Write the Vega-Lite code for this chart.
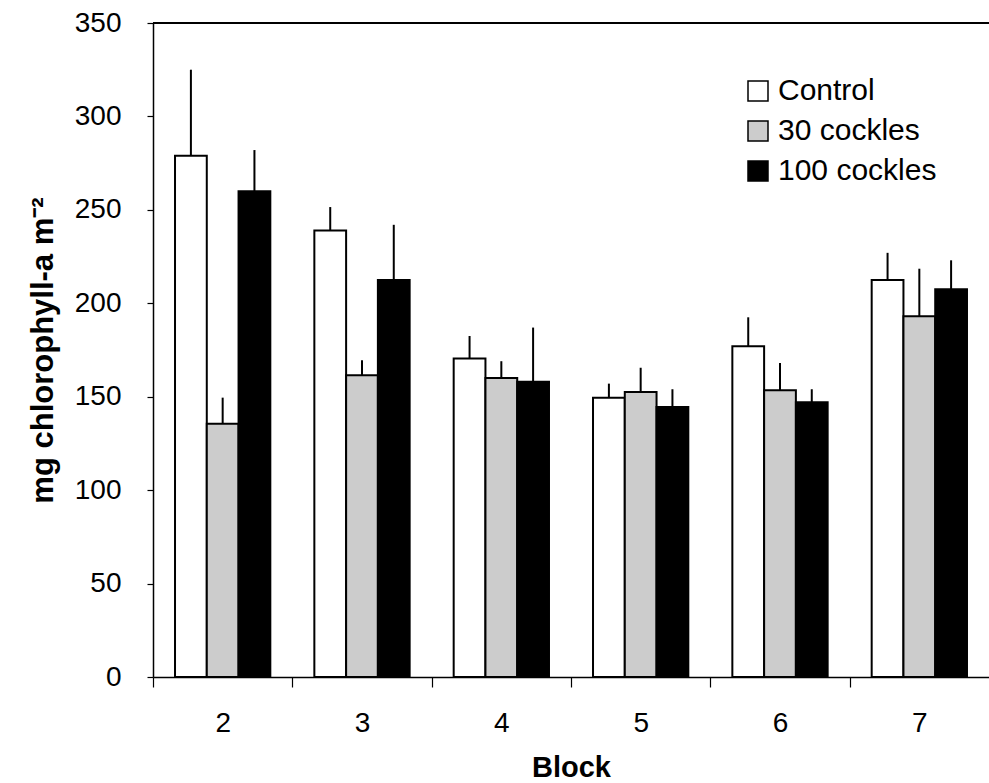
{
  "$schema": "https://vega.github.io/schema/vega-lite/v6.json",
  "width": 836,
  "height": 654,
  "autosize": {"type": "none"},
  "padding": {"left": 153, "top": 23, "right": 0, "bottom": 106},
  "background": "white",
  "config": {
    "view": {"stroke": null},
    "font": "Liberation Sans",
    "axis": {
      "grid": false,
      "domainColor": "black",
      "domainWidth": 1.5,
      "tickColor": "black",
      "tickWidth": 1.2,
      "labelColor": "black",
      "titleColor": "black",
      "labelFont": "Liberation Sans",
      "titleFont": "Liberation Sans",
      "labelFontSize": 28,
      "titleFontSize": 29,
      "titleFontWeight": "bold"
    }
  },
  "data": {
    "values": [
      {"block": "2", "group": "Control", "value": 279, "upper": 325},
      {"block": "2", "group": "30 cockles", "value": 135.5, "upper": 149.5},
      {"block": "2", "group": "100 cockles", "value": 260, "upper": 282},
      {"block": "3", "group": "Control", "value": 239, "upper": 251.5},
      {"block": "3", "group": "30 cockles", "value": 161.5, "upper": 169.5},
      {"block": "3", "group": "100 cockles", "value": 212.5, "upper": 242},
      {"block": "4", "group": "Control", "value": 170.5, "upper": 182.5},
      {"block": "4", "group": "30 cockles", "value": 160, "upper": 169},
      {"block": "4", "group": "100 cockles", "value": 158, "upper": 187},
      {"block": "5", "group": "Control", "value": 149.5, "upper": 157},
      {"block": "5", "group": "30 cockles", "value": 152.5, "upper": 165.5},
      {"block": "5", "group": "100 cockles", "value": 144.5, "upper": 154},
      {"block": "6", "group": "Control", "value": 177, "upper": 192.5},
      {"block": "6", "group": "30 cockles", "value": 153.5, "upper": 168},
      {"block": "6", "group": "100 cockles", "value": 147, "upper": 154},
      {"block": "7", "group": "Control", "value": 212.5, "upper": 227},
      {"block": "7", "group": "30 cockles", "value": 193, "upper": 218.5},
      {"block": "7", "group": "100 cockles", "value": 207.5, "upper": 223}
    ]
  },
  "encoding": {
    "x": {
      "field": "block",
      "type": "nominal",
      "sort": ["2", "3", "4", "5", "6", "7"],
      "scale": {"paddingInner": 0.316, "paddingOuter": 0.158},
      "axis": {
        "title": "Block",
        "labelAngle": 0,
        "tickSize": 10,
        "tickOffset": -69.67,
        "labelOffset": 69.67,
        "labelPadding": 22,
        "titlePadding": 16
      }
    },
    "xOffset": {
      "field": "group",
      "type": "nominal",
      "sort": ["Control", "30 cockles", "100 cockles"],
      "scale": {"paddingInner": 0, "paddingOuter": 0}
    }
  },
  "layer": [
    {
      "mark": {"type": "rule", "stroke": "black", "strokeWidth": 2},
      "encoding": {
        "y": {"field": "value", "type": "quantitative"},
        "y2": {"field": "upper"}
      }
    },
    {
      "mark": {"type": "bar", "stroke": "black", "strokeWidth": 2},
      "encoding": {
        "y": {
          "field": "value",
          "type": "quantitative",
          "scale": {"domain": [0, 350], "nice": false},
          "axis": {
            "title": "mg chlorophyll-a m⁻²",
            "values": [0, 50, 100, 150, 200, 250, 300, 350],
            "tickSize": 6,
            "labelPadding": 26,
            "titlePadding": 15,
            "titleFontSize": 31
          }
        },
        "fill": {
          "field": "group",
          "type": "nominal",
          "scale": {
            "domain": ["Control", "30 cockles", "100 cockles"],
            "range": ["#ffffff", "#cccccc", "#000000"]
          },
          "legend": {
            "title": null,
            "orient": "none",
            "legendX": 590,
            "legendY": 53,
            "padding": 0,
            "symbolType": "square",
            "symbolSize": 400,
            "symbolStrokeColor": "black",
            "symbolStrokeWidth": 1.5,
            "labelFont": "Liberation Sans",
            "labelFontSize": 30,
            "labelColor": "black",
            "labelOffset": 5,
            "rowPadding": 10
          }
        }
      }
    },
    {
      "mark": {"type": "rule", "stroke": "black", "strokeWidth": 1.5},
      "encoding": {
        "x": null,
        "xOffset": null,
        "y": {"datum": 350}
      }
    }
  ]
}
